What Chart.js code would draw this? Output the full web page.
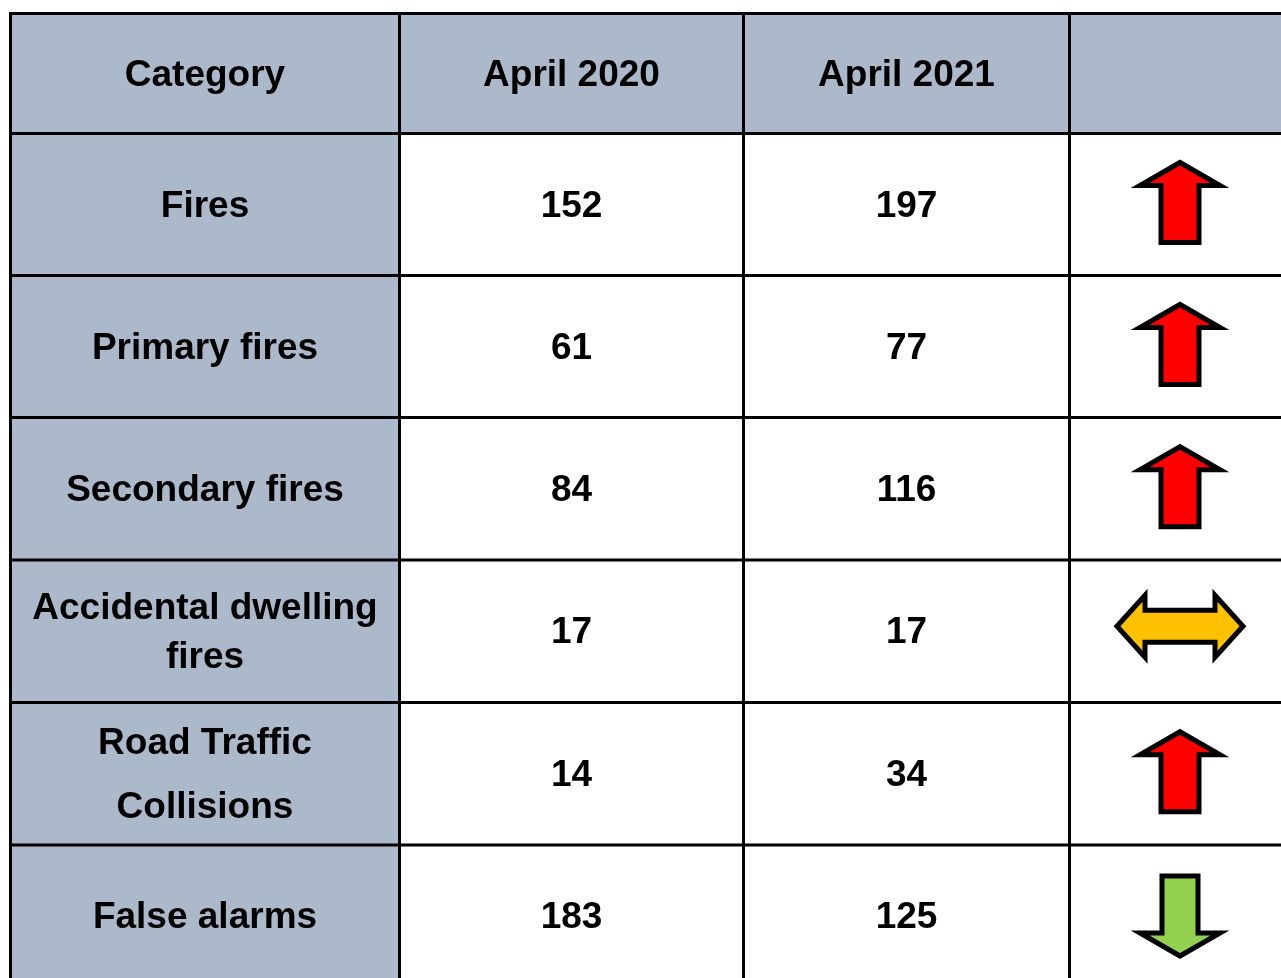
<!DOCTYPE html>
<html>
<head>
<meta charset="utf-8">
<script src="https://cdn.jsdelivr.net/npm/chart.js@4.4.1/dist/chart.umd.min.js"></script>
<style>
  html, body { margin: 0; padding: 0; background: #ffffff; }
  #wrap { width: 1281px; height: 978px; position: relative; }
</style>
</head>
<body>
<div id="wrap"><canvas id="c" width="1281" height="978"></canvas></div>
<script>
// ---- data ----
const headers = ['Category', 'April 2020', 'April 2021', ''];
const categories = [
  ['Fires'],
  ['Primary fires'],
  ['Secondary fires'],
  ['Accidental dwelling', 'fires'],
  ['Road Traffic', 'Collisions'],
  ['False alarms']
];
const april2020 = [152, 61, 84, 17, 14, 183];
const april2021 = [197, 77, 116, 17, 34, 125];

// ---- layout (pixel units of the scales) ----
const colEdges = [10.5, 399.5, 743.5, 1069.5, 1300];
const rowEdges = [13.5, 133.5, 275.5, 417.5, 560, 702.5, 845, 987];
const lineGap = [0, 0, 0, 49, 64, 0];
const arrowX = 1180;

const HEADER_BG = '#ACB9CA';
const FONT = 'bold 37px "Liberation Sans", Arial, sans-serif';

function trend(i) {
  if (april2021[i] > april2020[i]) return 'up';
  if (april2021[i] < april2020[i]) return 'down';
  return 'same';
}

function poly(ctx, pts, fill) {
  ctx.save();
  ctx.beginPath();
  pts.forEach((p, k) => k ? ctx.lineTo(p[0], p[1]) : ctx.moveTo(p[0], p[1]));
  ctx.closePath();
  ctx.fillStyle = fill;
  ctx.fill();
  ctx.lineWidth = 5;
  ctx.lineJoin = 'miter';
  ctx.strokeStyle = '#000000';
  ctx.stroke();
  ctx.restore();
}

function drawArrow(ctx, kind, cx, cy) {
  if (kind === 'up') {
    poly(ctx, [
      [cx, cy - 41], [cx + 40, cy - 18], [cx + 19, cy - 18], [cx + 19, cy + 39],
      [cx - 19, cy + 39], [cx - 19, cy - 18], [cx - 40, cy - 18]
    ], '#FF0000');
  } else if (kind === 'down') {
    poly(ctx, [
      [cx, cy + 41], [cx + 40, cy + 18], [cx + 18, cy + 18], [cx + 18, cy - 39],
      [cx - 18, cy - 39], [cx - 18, cy + 18], [cx - 40, cy + 18]
    ], '#92D050');
  } else {
    cy -= 4;
    poly(ctx, [
      [cx - 63, cy], [cx - 35, cy - 31], [cx - 35, cy - 16], [cx + 35, cy - 16],
      [cx + 35, cy - 31], [cx + 63, cy], [cx + 35, cy + 31], [cx + 35, cy + 16],
      [cx - 35, cy + 16], [cx - 35, cy + 31]
    ], '#FFC000');
  }
}

const tablePlugin = {
  id: 'tablePlugin',
  afterDraw(chart) {
    const ctx = chart.ctx;
    const xs = chart.scales.x, ys = chart.scales.y;
    const X = v => xs.getPixelForValue(v);
    const Y = v => ys.getPixelForValue(v);
    ctx.save();
    // backgrounds
    ctx.fillStyle = HEADER_BG;
    ctx.fillRect(X(colEdges[0]), Y(rowEdges[0]), X(colEdges[4]) - X(colEdges[0]), Y(rowEdges[1]) - Y(rowEdges[0]));
    ctx.fillRect(X(colEdges[0]), Y(rowEdges[0]), X(colEdges[1]) - X(colEdges[0]), Y(rowEdges[7]) - Y(rowEdges[0]));

    const colC = c => (X(colEdges[c]) + X(colEdges[c + 1])) / 2;
    const rowC = r => (Y(rowEdges[r]) + Y(rowEdges[r + 1])) / 2;

    // arrows
    categories.forEach((lines, i) => drawArrow(ctx, trend(i), X(arrowX), rowC(i + 1) - 1));

    // text
    ctx.font = FONT;
    ctx.fillStyle = '#000000';
    ctx.textAlign = 'center';
    ctx.textBaseline = 'middle';
    headers.forEach((h, c) => { if (h) ctx.fillText(h, colC(c), rowC(0) + 2); });
    categories.forEach((lines, i) => {
      const cy = rowC(i + 1) + 2;
      const n = lines.length;
      lines.forEach((ln, k) => {
        const off = (k - (n - 1) / 2) * lineGap[i];
        ctx.fillText(ln, colC(0), cy + off);
      });
      ctx.fillText(String(april2020[i]), colC(1), cy);
      ctx.fillText(String(april2021[i]), colC(2), cy);
    });

    // grid lines
    ctx.strokeStyle = '#000000';
    ctx.lineWidth = 3;
    ctx.beginPath();
    colEdges.forEach(v => { ctx.moveTo(X(v), Y(rowEdges[0]) - 1.5); ctx.lineTo(X(v), Y(rowEdges[7])); });
    rowEdges.forEach(v => { ctx.moveTo(X(colEdges[0]) - 1.5, Y(v)); ctx.lineTo(X(colEdges[4]), Y(v)); });
    ctx.stroke();
    ctx.restore();
  }
};

new Chart(document.getElementById('c'), {
  type: 'scatter',
  data: {
    datasets: [{
      label: 'cells',
      data: categories.map((c, i) => ({ x: arrowX, y: (rowEdges[i + 1] + rowEdges[i + 2]) / 2 })),
      pointRadius: 0,
      pointHoverRadius: 0
    }]
  },
  options: {
    responsive: false,
    animation: false,
    events: [],
    layout: { padding: 0 },
    plugins: { legend: { display: false }, tooltip: { enabled: false } },
    scales: {
      x: { type: 'linear', min: 0, max: 1281, display: false },
      y: { type: 'linear', min: 0, max: 978, reverse: true, display: false }
    }
  },
  plugins: [tablePlugin]
});
</script>
</body>
</html>
